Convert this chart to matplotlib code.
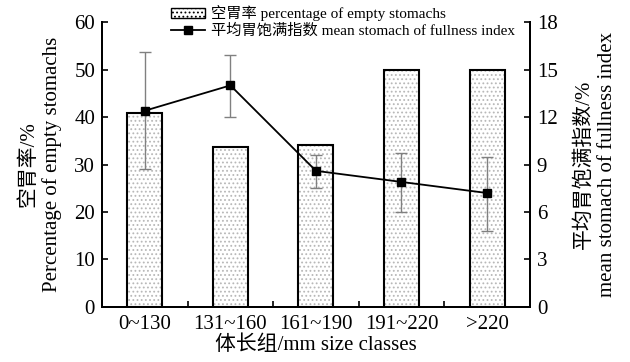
import matplotlib
matplotlib.use("Agg")
import matplotlib.pyplot as plt
import numpy as np
from matplotlib.patches import Patch
from matplotlib.lines import Line2D

plt.rcParams['font.family'] = ['Liberation Serif', 'Noto Sans CJK SC']
plt.rcParams['hatch.linewidth'] = 0.8

categories = ['0~130', '131~160', '161~190', '191~220', '>220']
empty_rate = [40.8, 33.7, 34.2, 50.0, 50.0]
fullness = [12.4, 14.0, 8.6, 7.9, 7.2]
fullness_upper = [16.1, 15.9, 9.6, 9.7, 9.5]
fullness_lower = [8.7, 12.0, 7.5, 6.0, 4.8]

fig = plt.figure(figsize=(6.3, 3.62), dpi=100)
ax = fig.add_axes([0.162, 0.152, 0.679, 0.787])
ax2 = ax.twinx()

x = np.arange(len(categories))
w = 0.41
ax.bar(x, empty_rate, width=w, color='white', edgecolor='#b8b8b8', hatch='....', linewidth=0, zorder=1)
ax.bar(x, empty_rate, width=w, facecolor='none', edgecolor='black', linewidth=1.5, zorder=2)

yerr = [np.array(fullness) - np.array(fullness_lower), np.array(fullness_upper) - np.array(fullness)]
ax2.errorbar(x, fullness, yerr=yerr, fmt='none', ecolor='#808080', elinewidth=1.0, capsize=4, capthick=1.0, zorder=3)
ax2.plot(x, fullness, color='black', marker='s', markersize=6, linewidth=1.3, zorder=4)

ax.set_xlim(-0.5, len(categories) - 0.5)
ax.set_ylim(0, 60)
ax2.set_ylim(0, 18)
ax.set_yticks(np.arange(0, 61, 10))
ax2.set_yticks(np.arange(0, 19, 3))
ax.set_xticks(x)
ax.set_xticklabels(categories)
ax.set_xticks(np.arange(0.5, len(categories) - 0.5, 1), minor=True)

for a in (ax, ax2):
    a.spines['top'].set_visible(False)
    for s in a.spines.values():
        s.set_linewidth(1.4)
ax.tick_params(axis='x', which='major', length=0, labelsize=15, pad=6)
ax.tick_params(axis='x', which='minor', length=4, direction='in', width=1.2)
ax.tick_params(axis='y', direction='in', length=4, width=1.2, labelsize=15, pad=5)
ax2.tick_params(axis='y', direction='in', length=4, width=1.2, labelsize=15, pad=5)

ax.set_ylabel('空胃率/%\nPercentage of empty stomachs', fontsize=15, linespacing=1.25, labelpad=9)
ax2.set_ylabel('平均胃饱满指数/%\nmean stomach of fullness index', fontsize=15, linespacing=1.25, labelpad=12)
ax.set_xlabel('体长组/mm size classes', fontsize=15, labelpad=1)

handles = [Patch(facecolor='white', edgecolor='black', hatch='....', linewidth=1.0),
           Line2D([0], [0], color='black', marker='s', markersize=6, linewidth=1.3)]
labels = ['空胃率 percentage of empty stomachs', '平均胃饱满指数 mean stomach of fullness index']
leg = fig.legend(handles, labels, loc='upper left', bbox_to_anchor=(0.255, 1.015), frameon=False,
                 fontsize=11, handlelength=2.2, handletextpad=0.4, labelspacing=0.15, borderpad=0.2)

fig.savefig('out.png', dpi=100)
